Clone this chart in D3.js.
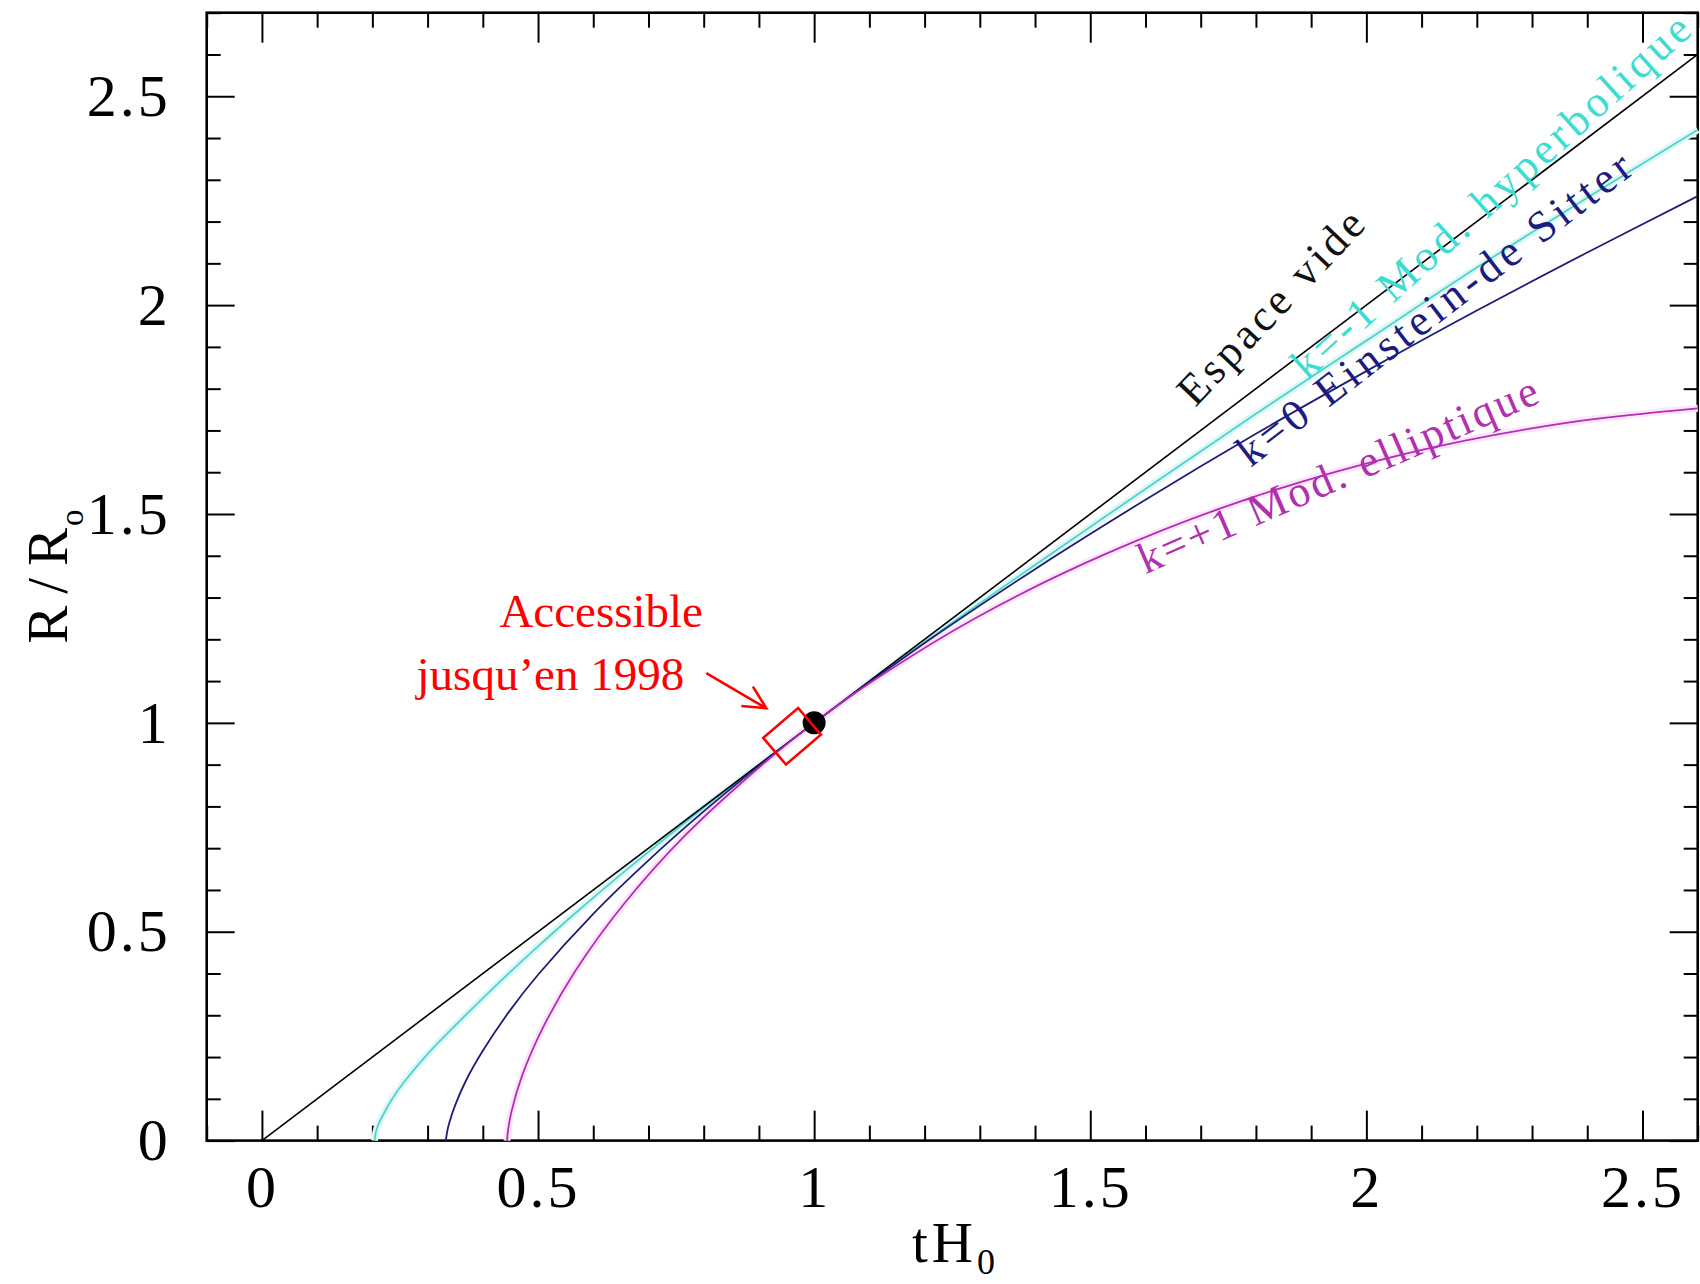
<!DOCTYPE html>
<html>
<head>
<meta charset="utf-8">
<script src="https://cdn.jsdelivr.net/npm/d3@7"></script>
<style>
  body { margin: 0; background: #fff; }
</style>
</head>
<body>
<script>
// R/R0 against tH0 for the Friedmann models

// empty universe
var emptyT = [0, 2.6];
var emptyR = [0, 2.6];

// k=-1, open model
var hyperT = [0.204, 0.206, 0.209, 0.213, 0.222, 0.236, 0.255, 0.297, 0.358, 0.418, 0.491, 0.569, 0.66, 0.78, 0.9, 1.0, 1.2, 1.4, 1.6, 1.8, 2.0, 2.2, 2.4, 2.6];
var hyperR = [0, 0.018, 0.032, 0.045, 0.068, 0.1, 0.136, 0.203, 0.286, 0.364, 0.454, 0.546, 0.648, 0.776, 0.899, 1.0, 1.193, 1.378, 1.56, 1.74, 1.915, 2.09, 2.257, 2.42];

// k=0, Einstein-de Sitter
var edsT = [0.333, 0.336, 0.34, 0.35, 0.37, 0.4, 0.45, 0.5, 0.6, 0.7, 0.8, 0.9, 1.0, 1.2, 1.4, 1.6, 1.8, 2.0, 2.2, 2.4, 2.6];
var edsR = [0, 0.025, 0.046, 0.085, 0.145, 0.215, 0.313, 0.397, 0.543, 0.671, 0.788, 0.897, 1.0, 1.191, 1.368, 1.534, 1.692, 1.842, 1.987, 2.126, 2.261];

// k=+1, closed model
var ellipT = [0.444, 0.445, 0.452, 0.471, 0.508, 0.568, 0.654, 0.769, 0.915, 1.0, 1.09, 1.295, 1.529, 1.787, 2.066, 2.362, 2.6];
var ellipR = [0, 0.018, 0.07, 0.155, 0.268, 0.407, 0.564, 0.734, 0.91, 1.0, 1.086, 1.253, 1.405, 1.537, 1.643, 1.718, 1.753];

// today and the range observable until 1998
var todayPoint = [1, 1];
var box1998 = [0.96, 0.968];

var xTicks = [0, 0.5, 1, 1.5, 2, 2.5];
var xTickLabels = ["0", "0.5", "1", "1.5", "2", "2.5"];
var yTicks = [0, 0.5, 1, 1.5, 2, 2.5];
var yTickLabels = ["0", "0.5", "1", "1.5", "2", "2.5"];

var curveNames = ["Espace vide", "k=-1 Mod. hyperbolique", "k=0 Einstein-de Sitter", "k=+1 Mod. elliptique"];

var serif = "'Liberation Serif', 'Times New Roman', serif";

var svg = d3.select("body").append("svg")
            .attr("width", 1700)
            .attr("height", 1284);

var x = d3.scaleLinear().domain([-0.1, 2.6]).range([206.7, 1697.7]);
var y = d3.scaleLinear().domain([0, 2.7]).range([1140.6, 12.7]);

var xMinor = d3.range(-1, 27).map(function (i) { return i / 10; })
               .filter(function (v) { return Math.abs(v * 2 - Math.round(v * 2)) > 1e-6; });
var yMinor = d3.range(0, 28).map(function (i) { return i / 10; })
               .filter(function (v) { return Math.abs(v * 2 - Math.round(v * 2)) > 1e-6; });

function styleAxis(g) {
  g.select(".domain").remove();
  g.selectAll(".tick line").attr("stroke", "#000").attr("stroke-width", 2);
  // drop the empty labels of the tick-only axes
  g.selectAll("text").filter(function () { return this.textContent === ""; }).remove();
  g.selectAll("text")
   .attr("font-family", serif)
   .attr("font-size", 60)
   .attr("letter-spacing", 3)
   .attr("fill", "#000");
}

// bottom axis with labels
svg.append("g")
   .attr("transform", "translate(0," + y(0) + ")")
   .call(d3.axisBottom(x).tickValues(xTicks)
           .tickFormat(function (d) { return xTickLabels[xTicks.indexOf(d)]; })
           .tickSizeInner(-30).tickSizeOuter(0).tickPadding(24))
   .call(styleAxis);
svg.append("g")
   .attr("transform", "translate(0," + y(0) + ")")
   .call(d3.axisBottom(x).tickValues(xMinor).tickFormat("").tickSizeInner(-15).tickSizeOuter(0))
   .call(styleAxis);

// top axis, ticks only
svg.append("g")
   .attr("transform", "translate(0," + y(2.7) + ")")
   .call(d3.axisTop(x).tickValues(xTicks).tickFormat("").tickSizeInner(-30).tickSizeOuter(0))
   .call(styleAxis);
svg.append("g")
   .attr("transform", "translate(0," + y(2.7) + ")")
   .call(d3.axisTop(x).tickValues(xMinor).tickFormat("").tickSizeInner(-15).tickSizeOuter(0))
   .call(styleAxis);

// left axis with labels
svg.append("g")
   .attr("transform", "translate(" + x(-0.1) + ",0)")
   .call(d3.axisLeft(y).tickValues(yTicks)
           .tickFormat(function (d) { return yTickLabels[yTicks.indexOf(d)]; })
           .tickSizeInner(-28).tickSizeOuter(0).tickPadding(36))
   .call(styleAxis);
svg.append("g")
   .attr("transform", "translate(" + x(-0.1) + ",0)")
   .call(d3.axisLeft(y).tickValues(yMinor).tickFormat("").tickSizeInner(-14).tickSizeOuter(0))
   .call(styleAxis);

// right axis, ticks only
svg.append("g")
   .attr("transform", "translate(" + x(2.6) + ",0)")
   .call(d3.axisRight(y).tickValues(yTicks).tickFormat("").tickSizeInner(-28).tickSizeOuter(0))
   .call(styleAxis);
svg.append("g")
   .attr("transform", "translate(" + x(2.6) + ",0)")
   .call(d3.axisRight(y).tickValues(yMinor).tickFormat("").tickSizeInner(-14).tickSizeOuter(0))
   .call(styleAxis);

// frame
svg.append("rect")
   .attr("x", x(-0.1)).attr("y", y(2.7))
   .attr("width", x(2.6) - x(-0.1)).attr("height", y(0) - y(2.7))
   .attr("fill", "none").attr("stroke", "#000").attr("stroke-width", 2.6);

// curves
var line = d3.line()
             .x(function (d) { return x(d[0]); })
             .y(function (d) { return y(d[1]); })
             .curve(d3.curveCatmullRom.alpha(0.5));

var curves = [
  { pts: d3.zip(hyperT, hyperR), color: "#4fd3cc", width: 1.8, halo: "#dff7f5" },
  { pts: d3.zip(emptyT, emptyR), color: "#000000", width: 1.6 },
  { pts: d3.zip(edsT, edsR), color: "#1e1e78", width: 1.8 },
  { pts: d3.zip(ellipT, ellipR), color: "#b52cb5", width: 1.8, halo: "#fbe6fb" }
];

curves.forEach(function (c) {
  if (c.halo) {
    svg.append("path").attr("d", line(c.pts))
       .attr("fill", "none").attr("stroke", c.halo).attr("stroke-width", 7);
  }
});
curves.forEach(function (c) {
  svg.append("path").attr("d", line(c.pts))
     .attr("fill", "none").attr("stroke", c.color).attr("stroke-width", c.width);
});

// curve labels, anchored in data coordinates
var curveLabels = [
  { t: 1.690, r: 1.754, angle: -46.5, len: 250, color: "#111111" },
  { t: 1.893, r: 1.818, angle: -42, len: 520, color: "#3ddcd2" },
  { t: 1.790, r: 1.610, angle: -37.5, len: 485, color: "#1c1c80" },
  { t: 1.600, r: 1.356, angle: -23.5, len: 432, color: "#b12fb1" }
];

svg.selectAll("text.curve-label")
   .data(curveLabels)
   .enter()
   .append("text")
   .attr("class", "curve-label")
   .attr("transform", function (d) { return "translate(" + x(d.t) + "," + y(d.r) + ") rotate(" + d.angle + ")"; })
   .attr("font-family", serif)
   .attr("font-size", 44)
   .attr("fill", function (d) { return d.color; })
   .attr("textLength", function (d) { return d.len; })
   .attr("lengthAdjust", "spacing")
   .text(function (d, i) { return curveNames[i]; });

// today
svg.append("circle")
   .attr("cx", x(todayPoint[0])).attr("cy", y(todayPoint[1]))
   .attr("r", 11.5).attr("fill", "#000");

// box of what was accessible until 1998
svg.append("rect")
   .attr("transform", "translate(" + x(box1998[0]) + "," + y(box1998[1]) + ") rotate(-40.6)")
   .attr("x", -23).attr("y", -17.5).attr("width", 46).attr("height", 35)
   .attr("fill", "none").attr("stroke", "#ff0000").attr("stroke-width", 2.6);

// arrow
var tip = [x(0.9134), y(1.035)];
var tail = [x(0.8047), y(1.1188)];
svg.append("path")
   .attr("d", "M" + tail[0] + "," + tail[1] + "L" + tip[0] + "," + tip[1] +
              "M" + (tip[0] - 25) + "," + (tip[1] - 2.3) + "L" + tip[0] + "," + tip[1] +
              "L" + (tip[0] - 13.4) + "," + (tip[1] - 21.6))
   .attr("fill", "none").attr("stroke", "#ff0000").attr("stroke-width", 2.6);

svg.append("text")
   .attr("x", x(0.430)).attr("y", y(1.2296))
   .attr("font-family", serif).attr("font-size", 47).attr("fill", "#ff0000")
   .text("Accessible");
svg.append("text")
   .attr("x", x(0.280)).attr("y", y(1.0788))
   .attr("font-family", serif).attr("font-size", 47).attr("fill", "#ff0000")
   .text("jusqu\u2019en 1998");

// axis titles
var xTitle = svg.append("text")
   .attr("x", 912).attr("y", 1262)
   .attr("font-family", serif).attr("font-size", 57).attr("fill", "#000");
xTitle.append("tspan").attr("letter-spacing", 4).text("tH");
xTitle.append("tspan").attr("font-size", 36).attr("dy", 12).text("0");

var yTitle = svg.append("text")
   .attr("transform", "translate(67," + ((y(0) + y(2.7)) / 2) + ") rotate(-90)")
   .attr("text-anchor", "middle")
   .attr("font-family", serif).attr("font-size", 57).attr("fill", "#000");
yTitle.append("tspan").attr("letter-spacing", 12).text("R/R");
yTitle.append("tspan").attr("font-size", 33).attr("dx", -10).attr("dy", 16).text("o");
</script>
</body>
</html>
